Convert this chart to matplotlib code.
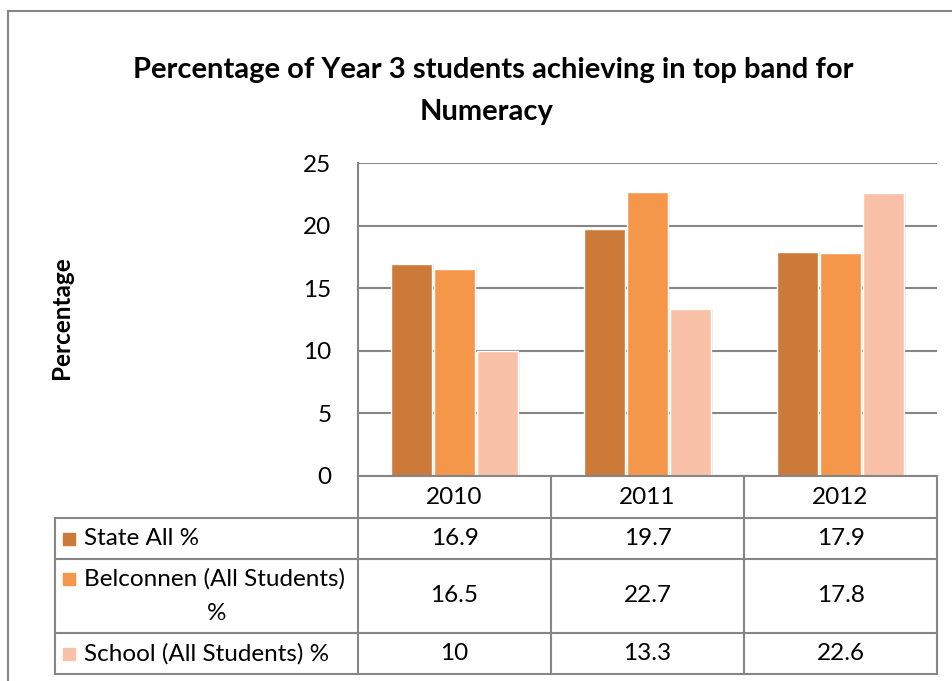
import matplotlib
matplotlib.use("Agg")
import matplotlib.pyplot as plt
from matplotlib.patches import Rectangle
from matplotlib.lines import Line2D

plt.rcParams['font.family'] = ['Lato', 'DejaVu Sans']

# data
years = ['2010', '2011', '2012']
series_names = ['State All %', 'Belconnen (All Students)\n%', 'School (All Students) %']
state_all = [16.9, 19.7, 17.9]
belconnen = [16.5, 22.7, 17.8]
school = [10, 13.3, 22.6]
series = [state_all, belconnen, school]
colors = ['#CB7A39', '#F5974A', '#F9C2A8']
yticks = [0, 5, 10, 15, 20, 25]

W, H = 953, 681
fig = plt.figure(figsize=(W / 100, H / 100), dpi=100)
fs = 17.5

def fx(px):
    return px / W

def fy(py):
    return 1 - py / H

# outer frame: only top and left edges are visible
fig.lines.append(Line2D([fx(8), 1.0], [fy(11), fy(11)], transform=fig.transFigure,
                        color='#868686', lw=1.5))
fig.lines.append(Line2D([fx(8), fx(8)], [fy(11), 0.0], transform=fig.transFigure,
                        color='#868686', lw=1.5))

# plot area
ax = fig.add_axes([fx(358), fy(476), fx(937) - fx(358), fy(163) - fy(476)])
bw = 0.213
gap = 0.01
for i, vals in enumerate(series):
    offs = (i - 1) * (bw + gap)
    xs = [k + offs for k in range(len(years))]
    # soft shadow
    ax.bar([x + 0.012 for x in xs], vals, bw, color='#000000', alpha=0.08, zorder=2)
    ax.bar(xs, vals, bw, color=colors[i], edgecolor='white', linewidth=1.0, zorder=3)

ax.set_xlim(-0.5, 2.5)
ax.set_ylim(0, 25)
ax.set_yticks(yticks)
ax.set_yticklabels([str(t) for t in yticks], fontsize=fs)
ax.tick_params(axis='y', length=0, pad=19)
ax.set_xticks([])
ax.grid(axis='y', color='#868686', lw=1.5, zorder=1)
for s in ['top', 'right', 'bottom']:
    ax.spines[s].set_visible(False)
ax.spines['left'].set_color('#868686')
ax.spines['left'].set_linewidth(1.5)

# title and y label
fig.text(fx(493), fy(70), 'Percentage of Year 3 students achieving in top band for',
         ha='center', va='center', fontsize=21, fontweight='bold')
fig.text(fx(487), fy(112), 'Numeracy', ha='center', va='center',
         fontsize=21, fontweight='bold')
fig.text(fx(62), fy(318), 'Percentage', ha='center', va='center', rotation=90,
         fontsize=fs, fontweight='bold')

# data table
label_w = 303 / 193
tax = fig.add_axes([fx(55), fy(674), fx(937) - fx(55), fy(476) - fy(674)])
tax.set_xlim(-0.5 - label_w, 2.5)
tax.set_ylim(198, 0)
tax.axis('off')
row_edges = [0, 42, 83, 157, 198]
lc = '#868686'
lw = 1.5
tax.plot([-0.5, 2.5], [0, 0], color=lc, lw=lw, clip_on=False)
for xe in [-0.5, 0.5, 1.5, 2.5]:
    tax.plot([xe, xe], [0, 198], color=lc, lw=lw, clip_on=False)
for ye in row_edges[1:]:
    tax.plot([-0.5 - label_w, 2.5], [ye, ye], color=lc, lw=lw, clip_on=False)
tax.plot([-0.5 - label_w] * 2, [row_edges[1], 198], color=lc, lw=lw, clip_on=False)

for k, yr in enumerate(years):
    tax.text(k, (row_edges[0] + row_edges[1]) / 2, yr, ha='center', va='center', fontsize=fs)
for i, vals in enumerate(series):
    yc = (row_edges[i + 1] + row_edges[i + 2]) / 2
    for k, v in enumerate(vals):
        tax.text(k, yc, f'{v:g}', ha='center', va='center', fontsize=fs)
    # legend key
    x0 = -0.5 - label_w
    ky = yc - 6 if i != 1 else row_edges[i + 1] + 14
    tax.add_patch(Rectangle((x0 + 0.04, ky), 0.065, 12, color=colors[i], clip_on=False))
    if i == 1:
        tax.text(x0 + 0.15, row_edges[2] + 20, 'Belconnen (All Students)',
                 ha='left', va='center', fontsize=fs)
        tax.text(x0 + 0.84, row_edges[2] + 54, '%', ha='center', va='center', fontsize=fs)
    else:
        tax.text(x0 + 0.15, yc, series_names[i], ha='left', va='center', fontsize=fs)

fig.savefig('out.png', dpi=100)
